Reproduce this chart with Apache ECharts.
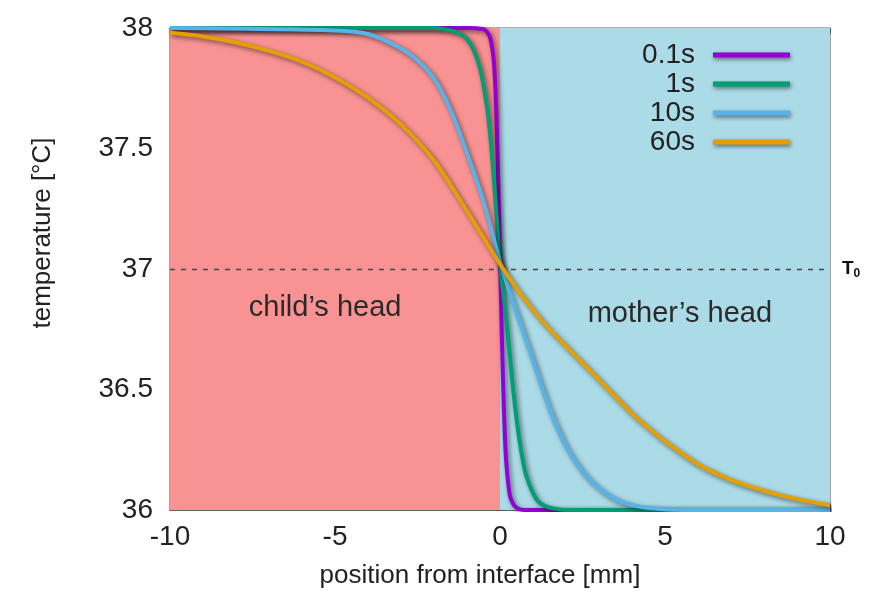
<!DOCTYPE html>
<html>
<head>
<meta charset="utf-8">
<script src="https://cdn.jsdelivr.net/npm/echarts@6/dist/echarts.min.js"></script>
<style>
  html, body { margin: 0; padding: 0; background: #fff; }
  #chart { width: 869px; height: 597px; }
</style>
</head>
<body>
<div id="chart"></div>
<script>
// 位置 [mm] 与温度 [°C]
var names = ['0.1s', '1s', '10s', '60s'];
var colors = ['#9400d3', '#009e73', '#56b4e9', '#e69f00'];

var pos01  = [-10, -1, -0.5, -0.4, -0.3, -0.2, -0.15, -0.1, -0.05, 0, 0.05, 0.1, 0.15, 0.2, 0.3, 0.4, 0.5, 0.7, 10];
var temp01 = [38, 38, 37.995, 37.985, 37.96, 37.88, 37.78, 37.6, 37.35, 37.05, 36.75, 36.5, 36.3, 36.18, 36.06, 36.025, 36.01, 36, 36];

var pos1  = [-10, -2, -1.5, -1.2, -1, -0.8, -0.6, -0.4, -0.3, -0.2, -0.1, 0, 0.1, 0.2, 0.3, 0.4, 0.5, 0.6, 0.7, 0.8, 1.0, 1.2, 1.5, 2, 10];
var temp1 = [38, 38, 37.99, 37.975, 37.955, 37.91, 37.83, 37.68, 37.56, 37.4, 37.21, 37.02, 36.9, 36.78, 36.64, 36.5, 36.38, 36.28, 36.2, 36.14, 36.07, 36.03, 36.01, 36, 36];

var pos10  = [-10, -5, -4, -3, -2.5, -2, -1.5, -1, -0.5, 0, 0.3, 0.5, 0.7, 1, 1.5, 2, 2.5, 3, 3.5, 4, 4.5, 5.5, 10];
var temp10 = [38, 37.99, 37.975, 37.915, 37.865, 37.79, 37.66, 37.48, 37.28, 37.03, 36.9, 36.82, 36.74, 36.62, 36.42, 36.265, 36.16, 36.09, 36.045, 36.02, 36.008, 36, 36];

var pos60  = [-10, -9, -8, -7, -6, -5, -4, -3, -2, -1, -0.5, 0, 0.5, 1, 1.5, 2, 2.5, 3, 3.5, 4, 4.5, 5, 6, 7, 8, 9, 10];
var temp60 = [37.98, 37.965, 37.94, 37.905, 37.86, 37.795, 37.71, 37.6, 37.45, 37.24, 37.13, 37.02, 36.92, 36.83, 36.75, 36.68, 36.61, 36.54, 36.47, 36.4, 36.34, 36.285, 36.19, 36.125, 36.08, 36.045, 36.02];

var xTicks = [-10, -5, 0, 5, 10];
var yTicks = [36, 36.5, 37, 37.5, 38];
var T0 = 37;

var font = "'Liberation Sans', Arial, sans-serif";

function pairs(xs, ys) {
  var out = [];
  for (var i = 0; i < xs.length; i++) out.push([xs[i], ys[i]]);
  return out;
}

var curves = [pairs(pos01, temp01), pairs(pos1, temp1), pairs(pos10, temp10), pairs(pos60, temp60)];

var myChart = echarts.init(document.getElementById('chart'));

var series = [{
  name: 'bg',
  type: 'line',
  data: [],
  z: 1,
  silent: true,
  markArea: {
    silent: true,
    data: [
      [{ coord: [xTicks[0], yTicks[0]], itemStyle: { color: '#f99393' } }, { coord: [0, yTicks[4]] }],
      [{ coord: [0, yTicks[0]], itemStyle: { color: '#acdbe8' } }, { coord: [xTicks[4], yTicks[4]] }]
    ]
  },
  markLine: {
    silent: true,
    symbol: 'none',
    lineStyle: { type: [5, 6], color: '#444', width: 1.4 },
    label: {
      show: true,
      position: 'end',
      distance: 12,
      formatter: '{t|T}{s|0}',
      rich: {
        t: { fontSize: 19, fontWeight: 'bold', color: '#111', fontFamily: font },
        s: { fontSize: 12, fontWeight: 'bold', color: '#111', fontFamily: font, padding: [9, 0, 0, 0] }
      }
    },
    data: [[{ coord: [xTicks[0], T0] }, { coord: [xTicks[4], T0] }]]
  },
  markPoint: {
    silent: true,
    symbol: 'circle',
    symbolSize: 0,
    label: {
      show: true,
      position: 'inside',
      color: '#2a2a2a',
      fontSize: 29,
      fontFamily: font
    },
    data: [
      { coord: [-5.3, 36.84], value: 'child\u2019s head', label: { formatter: 'child\u2019s head' } },
      { coord: [5.45, 36.815], value: 'mother\u2019s head', label: { formatter: 'mother\u2019s head' } }
    ]
  }
}];

for (var i = 0; i < names.length; i++) {
  series.push({
    name: names[i],
    type: 'line',
    data: curves[i],
    smooth: 0.3,
    symbol: 'none',
    z: 3 + i,
    color: colors[i],
    lineStyle: {
      width: 4,
      color: colors[i],
      shadowColor: 'rgba(0,0,0,0.55)',
      shadowBlur: 5,
      shadowOffsetX: 2,
      shadowOffsetY: 2
    }
  });
}

var axisLine = { show: true, lineStyle: { color: '#666', width: 1.2 } };
var tick = { show: true, inside: true, length: 6, lineStyle: { color: '#555' } };

myChart.setOption({
  animation: false,
  textStyle: { fontFamily: font },
  grid: {
    left: 170, right: 39, top: 28, bottom: 87,
    show: true, borderColor: '#666', borderWidth: 1.2
  },
  legend: {
    data: names,
    orient: 'vertical',
    align: 'right',
    right: 74,
    top: 36,
    icon: 'rect',
    itemWidth: 77,
    itemHeight: 5,
    itemGap: 1,
    textStyle: { fontSize: 28, color: '#222', lineHeight: 28, padding: [0, 13, 0, 0] },
    itemStyle: { shadowColor: 'rgba(0,0,0,0.5)', shadowBlur: 4, shadowOffsetX: 1, shadowOffsetY: 2 }
  },
  xAxis: [{
    type: 'value',
    min: xTicks[0], max: xTicks[4], interval: 5,
    name: 'position from interface [mm]',
    nameLocation: 'middle',
    nameGap: 53,
    nameTextStyle: { fontSize: 26, color: '#222', padding: [0, 40, 0, 0] },
    axisLine: axisLine,
    axisTick: tick,
    axisLabel: { fontSize: 28, color: '#222', margin: 13 },
    splitLine: { show: false }
  }, {
    type: 'value', position: 'top',
    min: xTicks[0], max: xTicks[4], interval: 5,
    axisLine: axisLine,
    axisTick: tick,
    axisLabel: { show: false },
    splitLine: { show: false }
  }],
  yAxis: [{
    type: 'value',
    min: yTicks[0], max: yTicks[4], interval: 0.5,
    name: 'temperature [\u00b0C]',
    nameLocation: 'middle',
    nameGap: 114,
    nameRotate: 90,
    nameTextStyle: { fontSize: 26, color: '#222', padding: [0, 0, 0, 72] },
    axisLine: axisLine,
    axisTick: tick,
    axisLabel: { fontSize: 28, color: '#222', margin: 17 },
    splitLine: { show: false }
  }, {
    type: 'value', position: 'right',
    min: yTicks[0], max: yTicks[4], interval: 0.5,
    axisLine: axisLine,
    axisTick: tick,
    axisLabel: { show: false },
    splitLine: { show: false }
  }],
  series: series
});

window.addEventListener('resize', function () {
  myChart.resize();
});
</script>
</body>
</html>
